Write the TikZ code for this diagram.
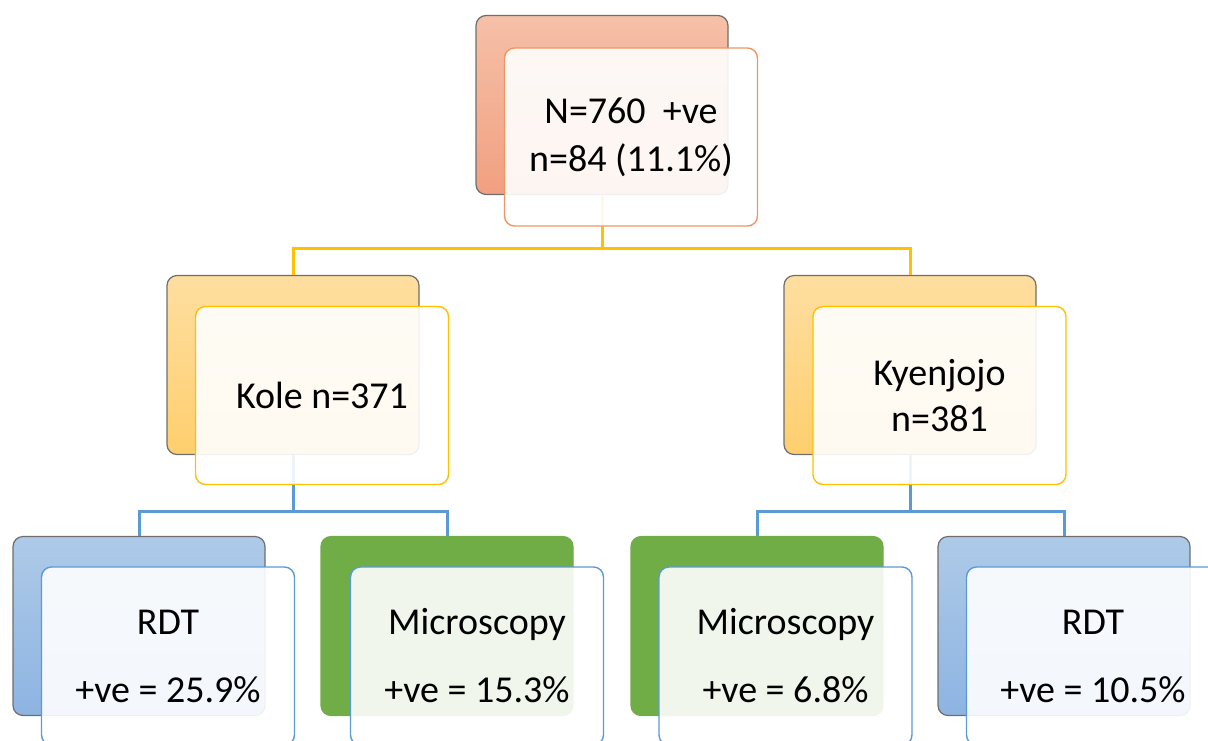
\documentclass[tikz,border=0pt]{standalone}
\usepackage{fontspec}
\setmainfont{Carlito}
\definecolor{salmonTop}{RGB}{246,192,168}
\definecolor{salmonBot}{RGB}{241,160,128}
\definecolor{salmonLine}{RGB}{240,150,100}
\definecolor{goldTop}{RGB}{254,222,160}
\definecolor{goldBot}{RGB}{255,207,110}
\definecolor{goldLine}{RGB}{255,192,0}
\definecolor{blueTop}{RGB}{174,202,232}
\definecolor{blueBot}{RGB}{141,180,226}
\definecolor{blueLine}{RGB}{91,155,213}
\definecolor{greenFill}{RGB}{112,173,71}
\definecolor{backBorder}{RGB}{110,110,110}
\tikzset{
  backbox/.style={rounded corners=10pt, minimum width=252pt, minimum height=179pt, inner sep=0pt, draw=backBorder, line width=1.2pt},
  salmonback/.style={backbox, top color=salmonTop, bottom color=salmonBot},
  goldback/.style={backbox, top color=goldTop, bottom color=goldBot},
  blueback/.style={backbox, top color=blueTop, bottom color=blueBot},
  greenback/.style={backbox, draw=greenFill, fill=greenFill},
  frontbox/.style={rounded corners=10pt, minimum width=253pt, minimum height=178pt, inner sep=0pt, fill=white, fill opacity=0.9, text opacity=1, line width=1.4pt, align=center, font=\fontsize{38}{48}\selectfont},
  salmonfront/.style={frontbox, draw=salmonLine},
  goldfront/.style={frontbox, draw=goldLine},
  bluefront/.style={frontbox, draw=blueLine},
  goldconn/.style={draw=goldLine, line width=3pt},
  blueconn/.style={draw=blueLine, line width=3pt},
}
\begin{document}
\begin{tikzpicture}[x=1pt,y=-1pt]
\useasboundingbox (0,0) rectangle (1208,740);
\clip (0,0) rectangle (1208,740);
% back boxes
\node[salmonback] (tb) at (602,105) {};
\node[goldback] (kb) at (293,365) {};
\node[goldback] (yb) at (910,365) {};
\node[blueback] (r1b) at (139,626) {};
\node[greenback] (m1b) at (447,626) {};
\node[greenback] (m2b) at (757,626) {};
\node[blueback] (r2b) at (1064,626) {};
% connectors
\draw[goldconn] (tb.south) -- ++(0,53) -| (kb.north);
\draw[goldconn] (tb.south) -- ++(0,53) -| (yb.north);
\draw[blueconn] (kb.south) -- ++(0,56) -| (r1b.north);
\draw[blueconn] (kb.south) -- ++(0,56) -| (m1b.north);
\draw[blueconn] (yb.south) -- ++(0,56) -| (m2b.north);
\draw[blueconn] (yb.south) -- ++(0,56) -| (r2b.north);
% front boxes
\node[salmonfront] (tf) at (631,137) {N=760\ \ +ve\\n=84 (11.1\%)};
\node[goldfront] (kf) at (322,395.5) {Kole n=371};
\node[goldfront] (yf) at (939.5,395.5) {Kyenjojo\\[-2pt]n=381};
\node[bluefront] (r1f) at (168,656) {RDT\\[20pt]+ve = 25.9\%};
\node[bluefront] (m1f) at (477,656) {Microscopy\\[20pt]+ve = 15.3\%};
\node[bluefront] (m2f) at (785.5,656) {Microscopy\\[20pt]+ve = 6.8\%};
\node[bluefront] (r2f) at (1093,656) {RDT\\[20pt]+ve = 10.5\%};
\end{tikzpicture}
\end{document}
